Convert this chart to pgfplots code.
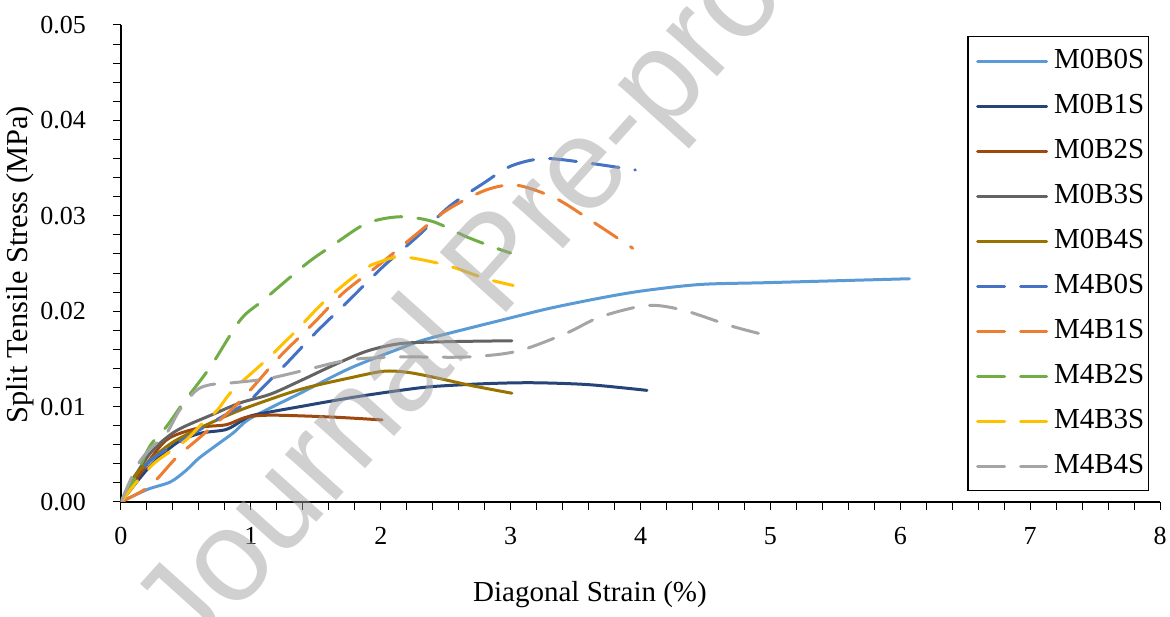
\documentclass[border=0pt]{standalone}
\usepackage{fontspec}
\setmainfont{Liberation Serif}
\newfontfamily\wmfont{Liberation Sans}
\usepackage{pgfplots}
\pgfplotsset{compat=1.18}
\definecolor{cA}{HTML}{5B9BD5}
\definecolor{cB}{HTML}{264478}
\definecolor{cC}{HTML}{9E480E}
\definecolor{cD}{HTML}{636363}
\definecolor{cE}{HTML}{997300}
\definecolor{cF}{HTML}{4472C4}
\definecolor{cG}{HTML}{ED7D31}
\definecolor{cH}{HTML}{70AD47}
\definecolor{cI}{HTML}{FFC000}
\definecolor{cJ}{HTML}{A5A5A5}
\begin{document}
\begin{tikzpicture}
\begin{axis}[
  scale only axis, width=519.5pt, height=238.5pt,
  xmin=0, xmax=8, ymin=0, ymax=0.05,
  xtick={0,1,2,3,4,5,6,7,8},
  ytick={0,0.01,0.02,0.03,0.04,0.05},
  minor x tick num=4, minor y tick num=4,
  axis lines*=left,
  axis line style={line width=0.65pt, black},
  tick align=outside,
  major tick length=4pt, minor tick length=4pt,
  tick style={line width=0.5pt, black},
  scaled y ticks=false,
  /pgf/number format/assume math mode=true,
  yticklabel style={/pgf/number format/.cd, fixed, fixed zerofill, precision=2, /tikz/.cd, xshift=-10pt},
  xticklabel style={yshift=-5pt},
  ticklabel style={font=\fontsize{13}{15.5}\selectfont},
  xlabel={Diagonal Strain (\%)},
  ylabel={Split Tensile Stress (MPa)},
  xlabel style={font=\fontsize{14.5}{17}\selectfont, at={(axis description cs:0.4514,-0.195)}, anchor=center},
  ylabel style={font=\fontsize{15.2}{18}\selectfont, at={(axis description cs:-0.0972,0.497)}, anchor=center},
  legend style={at={(axis description cs:0.9894,0.9769)}, anchor=north east,
    draw=black, line width=0.65pt, font=\fontsize{14.5}{17}\selectfont,
    inner xsep=1pt, inner ysep=1pt, row sep=0pt,
    nodes={text height=10.5pt, text depth=3pt, inner xsep=1pt, inner ysep=4.5pt}},
  legend cell align=left,
  legend image code/.code={\path (0pt,0pt) (39.5pt,0pt); \draw[#1] (3pt,0pt) -- (37.5pt,0pt);},
  every axis plot/.append style={line width=1.5pt, smooth, tension=0.5, line cap=round},
  dsh/.style={dash pattern=on 13.5pt off 8pt},
]
\addplot[cA] coordinates {(0,0) (0.2,0.0013) (0.38,0.0021) (0.5,0.0033) (0.61,0.0047) (0.86,0.0072) (1.0,0.0088) (1.38,0.0114) (1.76,0.0140) (2.15,0.0161) (2.36,0.0171) (2.97,0.0192) (3.3,0.0203) (3.66,0.0213) (4.0,0.0221) (4.46,0.0228) (5.0,0.0230) (6.07,0.0234)};
\addlegendentry{M0B0S}
\addplot[cB] coordinates {(0,0) (0.22,0.0037) (0.43,0.0062) (0.61,0.0072) (0.81,0.0076) (0.94,0.0086) (1.02,0.0091) (1.38,0.0100) (1.8,0.0110) (2.15,0.0117) (2.4,0.0121) (2.8,0.0124) (3.17,0.0125) (3.6,0.0123) (4.05,0.0117)};
\addlegendentry{M0B1S}
\addplot[cC] coordinates {(0,0) (0.15,0.003) (0.35,0.0065) (0.61,0.0078) (0.81,0.0081) (0.97,0.0089) (1.17,0.0091) (1.63,0.0089) (2.01,0.0086)};
\addlegendentry{M0B2S}
\addplot[cD] coordinates {(0,0) (0.12,0.003) (0.25,0.0055) (0.43,0.0075) (0.71,0.0092) (0.92,0.0104) (1.15,0.0113) (1.38,0.0127) (1.63,0.0143) (1.89,0.0158) (2.15,0.0166) (2.5,0.0168) (3.01,0.0169)};
\addlegendentry{M0B3S}
\addplot[cE] coordinates {(0,0) (0.12,0.003) (0.35,0.0058) (0.51,0.0071) (0.74,0.0086) (0.97,0.0099) (1.38,0.0118) (1.76,0.0130) (2.02,0.0137) (2.2,0.0136) (2.4,0.0131) (2.7,0.0122) (3.01,0.0114)};
\addlegendentry{M0B4S}
\addplot[cF, dsh] coordinates {(0,0) (0.2,0.004) (0.45,0.0063) (0.76,0.0088) (0.97,0.0104) (1.07,0.0117) (1.28,0.0146) (1.51,0.0179) (1.76,0.0212) (2.02,0.0247) (2.28,0.0278) (2.53,0.0310) (2.79,0.0334) (3.0,0.0352) (3.25,0.0360) (3.56,0.0356) (3.96,0.0348)};
\addlegendentry{M4B0S}
\addplot[cG, dsh] coordinates {(0,0) (0.17,0.0012) (0.27,0.0023) (0.43,0.0047) (0.61,0.0068) (0.86,0.0098) (1.0,0.0118) (1.22,0.0152) (1.48,0.0187) (1.71,0.0219) (2.0,0.0250) (2.25,0.0278) (2.51,0.0306) (2.81,0.0327) (3.05,0.0332) (3.35,0.0318) (3.63,0.0294) (3.94,0.0266)};
\addlegendentry{M4B1S}
\addplot[cH, dsh] coordinates {(0,0) (0.1,0.0023) (0.22,0.0058) (0.35,0.0079) (0.48,0.0104) (0.69,0.0142) (0.92,0.0191) (1.1,0.0212) (1.43,0.0250) (1.63,0.0269) (1.89,0.0292) (2.15,0.0299) (2.4,0.0294) (2.66,0.0278) (2.89,0.0266) (3.0,0.0261)};
\addlegendentry{M4B2S}
\addplot[cI, dsh] coordinates {(0,0) (0.12,0.0021) (0.25,0.004) (0.4,0.0055) (0.51,0.0066) (0.63,0.0083) (0.74,0.0096) (0.86,0.0117) (1.12,0.0149) (1.33,0.0177) (1.58,0.0212) (1.86,0.0243) (2.0,0.0252) (2.17,0.0257) (2.51,0.0248) (2.81,0.0234) (3.02,0.0227)};
\addlegendentry{M4B3S}
\addplot[cJ, dsh] coordinates {(0,0) (0.12,0.0037) (0.22,0.0055) (0.35,0.0072) (0.45,0.0096) (0.58,0.0117) (0.69,0.0123) (0.86,0.0125) (1.12,0.0129) (1.38,0.0137) (1.76,0.0149) (2.15,0.0152) (2.66,0.0152) (3.05,0.0158) (3.43,0.0177) (3.69,0.0194) (4.05,0.0206) (4.33,0.0201) (4.71,0.0184) (5.02,0.0173)};
\addlegendentry{M4B4S}
\end{axis}
\node[rotate=48, font=\wmfont\fontsize{65}{78}\selectfont, text=black!37, text opacity=0.5]
  at ([shift={(190pt,117pt)}]current axis.south west) {Journal Pre-proof};
\pgfresetboundingbox
\path ([shift={(-60.5pt,-57.5pt)}]current axis.south west) rectangle ([shift={(5pt,12.5pt)}]current axis.north east);
\end{tikzpicture}
\end{document}
